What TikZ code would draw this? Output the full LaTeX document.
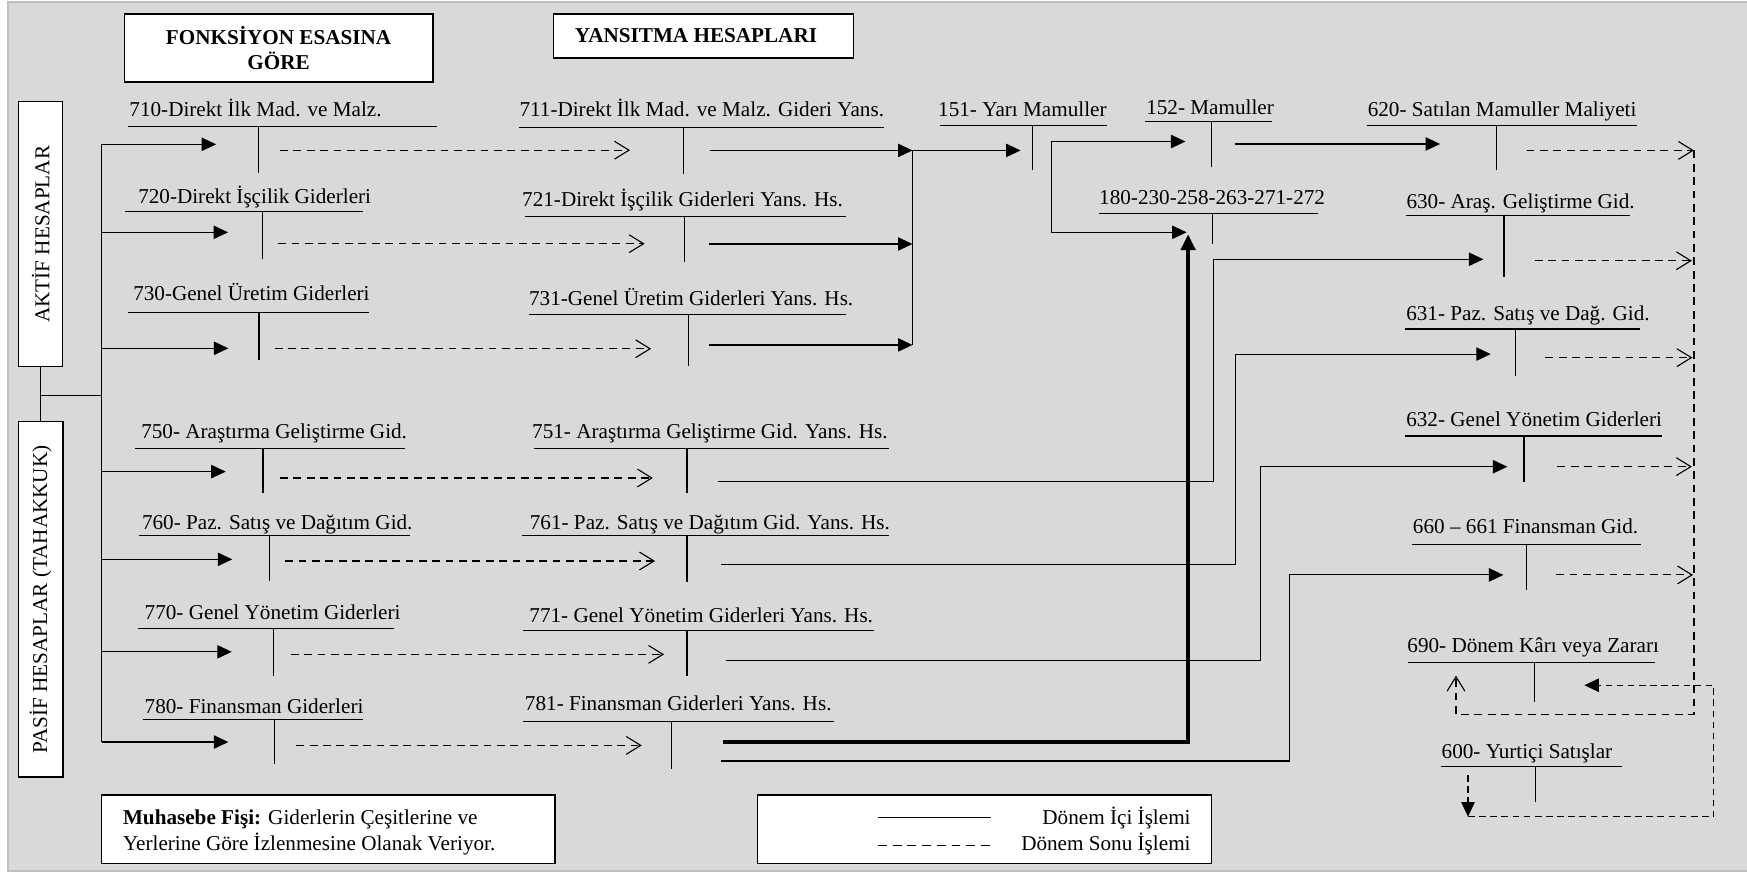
\documentclass[tikz,border=0pt]{standalone}
\usepackage{fontspec}
\setmainfont{Liberation Serif}
\usetikzlibrary{arrows.meta}
\definecolor{bggray}{HTML}{D9D9D9}
\definecolor{framegray}{HTML}{BFBFBF}
\newcommand{\tacct}[9]{%
  \node[lbl] (#1) at (#2,#3) {#4};
  \draw[tline] (#5,#7) -- (#6,#7);
  \draw[tline] (#8,#7) -- (#8,#9);
}
\begin{document}
\begin{tikzpicture}[x=0.5pt,y=-0.5pt,
  font=\fontsize{9.5pt}{11.5pt}\selectfont,
  tline/.style={line width=0.5pt},
  lbl/.style={anchor=base west,inner sep=0pt},
  sarr/.style={line width=0.5pt,-{Triangle[length=6.5pt,width=6pt]}},
  darr/.style={line width=0.5pt,dash pattern=on 3.5pt off 2.5pt,-{Straight Barb[length=6.5pt,width=8pt]}},
  dline/.style={line width=0.5pt,dash pattern=on 3.5pt off 2.5pt},
  dsarr/.style={line width=0.5pt,dash pattern=on 3pt off 2pt,-{Triangle[length=6.5pt,width=6pt]}},
  box/.style={draw,fill=white,line width=0.6pt,inner sep=0pt},
]
\useasboundingbox (0,0) rectangle (1568,783);
\fill[bggray] (7,1.5) rectangle (1568,781.5);
\draw[framegray,line width=0.8pt] (1568,1.5) -- (7,1.5) -- (7,781.5) -- (1568,781.5);

% title boxes
\node[box,minimum width=138.5pt,minimum height=30.5pt,align=center,
  font=\fontsize{9.5pt}{10.9pt}\selectfont\bfseries] (fonk) at (250,43.1)
  {FONKSİYON ESASINA\\GÖRE};
\node[box,minimum width=134.5pt,minimum height=19.7pt] (yansbox) at (631.3,32.3) {};
\node[font=\fontsize{9.5pt}{11.5pt}\selectfont\bfseries,inner sep=0pt] (yans) at (624.7,32.3) {YANSITMA HESAPLARI};

% side boxes
\node[box,rotate=90,minimum width=119pt,minimum height=19.8pt] (aktif) at (36.5,210.2) {AKTİF HESAPLAR};
\node[box,rotate=90,minimum width=159.5pt,minimum height=20.1pt] (pasif) at (36.5,538) {PASİF HESAPLAR (TAHAKKUK)};
\draw[tline] (aktif.west) -- (pasif.east);
\coordinate (jn) at (36.5,355);
\coordinate (trtop) at (91.4,129.5);
\coordinate (trbot) at (91.4,666);
\draw[tline] (jn) -- (91.4,355);
\draw[tline] (trtop) -- (trbot);

% T accounts
\tacct{a710}{115.8}{105}{710-Direkt İlk Mad. ve Malz.}{115}{392}{113.7}{231.8}{155}
\tacct{a720}{123.7}{182.8}{720-Direkt İşçilik Giderleri}{112.4}{326}{190}{235.6}{232.5}
\tacct{a730}{119.2}{269.3}{730-Genel Üretim Giderleri}{115}{331}{280.6}{232.5}{323}
\tacct{a750}{126.4}{393.7}{750- Araştırma Geliştirme Gid.}{121}{363.4}{402.4}{236}{442.8}
\tacct{a760}{127.1}{475.3}{760- Paz. Satış ve Dağıtım Gid.}{124.7}{368}{481}{242}{521.5}
\tacct{a770}{129.5}{556.3}{770- Genel Yönetim Giderleri}{124}{354}{564}{245.6}{606.4}
\tacct{a780}{129.5}{640.3}{780- Finansman Giderleri}{128}{326}{646}{246.6}{685.6}
\tacct{a711}{465.9}{105}{711-Direkt İlk Mad. ve Malz. Gideri Yans.}{465.8}{793}{114.3}{613.6}{156}
\tacct{a721}{468.3}{185.1}{721-Direkt İşçilik Giderleri Yans. Hs.}{471}{759.6}{194.5}{614}{234.9}
\tacct{a731}{474.5}{274.1}{731-Genel Üretim Giderleri Yans. Hs.}{474.5}{759.6}{282.4}{618}{328.5}
\tacct{a751}{477.3}{393.7}{751- Araştırma Geliştirme Gid. Yans. Hs.}{479}{797.7}{402.4}{616.6}{442.8}
\tacct{a761}{475.2}{475.3}{761- Paz. Satış ve Dağıtım Gid. Yans. Hs.}{468.3}{797.7}{481}{616.6}{522}
\tacct{a771}{474.8}{558.3}{771- Genel Yönetim Giderleri Yans. Hs.}{469.5}{784.5}{566}{616.6}{606.7}
\tacct{a781}{470.8}{637.3}{781- Finansman Giderleri Yans. Hs.}{469.5}{748.5}{647.7}{603}{690}
\tacct{a151}{841.7}{105}{151- Yarı Mamuller}{844}{993.5}{112.5}{926.6}{153}
\tacct{a152}{1028.4}{102.6}{152- Mamuller}{1028}{1141.5}{109.2}{1087.5}{149.6}
\tacct{a180}{986.2}{183.7}{180-230-258-263-271-272}{986.2}{1182.6}{192}{1088.4}{219}
\tacct{a620}{1227.2}{105}{620- Satılan Mamuller Maliyeti}{1226.5}{1469.5}{112.5}{1343}{153}
\tacct{a630}{1262}{187.3}{630- Araş. Geliştirme Gid.}{1262}{1463.2}{193.6}{1349.9}{248.3}
\tacct{a631}{1261.8}{287.5}{631- Paz. Satış ve Dağ. Gid.}{1261.4}{1472.2}{295.3}{1360.2}{337.2}
\tacct{a632}{1261.8}{382.6}{632- Genel Yönetim Giderleri}{1261.4}{1491.8}{391.3}{1367.8}{432.3}
\tacct{a660}{1267.8}{479}{660 – 661 Finansman Gid.}{1267.3}{1472.5}{489}{1370}{529.5}
\tacct{a690}{1262.8}{585.3}{690- Dönem Kârı veya Zararı}{1264}{1485}{594.7}{1377.5}{630}
\tacct{a600}{1293.6}{680.9}{600- Yurtiçi Satışlar}{1293}{1456}{688}{1378}{720}

% trunk branches
\foreach \y/\t in {129.5/194,208.5/204.7,312.6/205,423.3/202.6,502/208.5,585/208,666/205}
  \draw[sarr] (91.4,\y) -- (\t,\y);

% dashed: expense -> reflection accounts
\draw[darr] (251.4,134.8) -- (565.5,134.8);
\draw[darr] (249.7,218.7) -- (578.6,218.7);
\draw[darr] (246.6,313) -- (584.4,313);
\draw[darr] (251.4,429) -- (586,429);
\draw[darr] (256,503.5) -- (587.9,503.5);
\draw[darr] (261,587.3) -- (596,587.3);
\draw[darr] (266,669) -- (576,669);

% production costs collector
\draw[sarr] (637,135) -- (819,135);
\draw[sarr] (636.3,219) -- (819,219);
\draw[sarr] (636.3,309.6) -- (819,309.6);
\draw[tline] (819,135) -- (819,309.6);
\draw[sarr] (819,135) -- (916,135);

% 151 -> 152 and 180
\draw[{Triangle[length=6.5pt,width=6pt]}-{Triangle[length=6.5pt,width=6pt]},line width=0.5pt]
  (1064,127) -- (943.5,127) -- (943.5,208.5) -- (1065,208.5);
% 781 -> 180 (thick)
\draw[line width=1.5pt,-{Triangle[length=7pt,width=6.5pt]}] (649,666) -- (1066.4,666) -- (1066.4,210.4);
% 152 -> 620
\draw[sarr] (1108.4,129.2) -- (1292.6,129.2);
% period expenses
\draw[sarr] (644.4,432.3) -- (1089,432.3) -- (1089,232.7) -- (1331.4,232.7);
\draw[sarr] (647.3,506.5) -- (1108.5,506.5) -- (1108.5,317.8) -- (1338,317.8);
\draw[sarr] (651.6,592.5) -- (1131.7,592.5) -- (1131.7,418.9) -- (1352.9,418.9);
\draw[sarr] (647,683) -- (1157.6,683) -- (1157.6,516) -- (1349.4,516);

% closing entries
\draw[darr] (1370.2,135) -- (1520.4,135);
\draw[darr] (1377.5,234) -- (1518.5,234);
\draw[darr] (1387,321) -- (1519,321);
\draw[darr] (1397.8,418.8) -- (1518.5,418.8);
\draw[darr] (1396.7,516) -- (1519.6,516);
\draw[darr] (1520.4,135) -- (1520.4,641) -- (1306.8,641) -- (1306.8,606.4);
\draw[dsarr] (1317.6,695.6) -- (1317.6,733);
\draw[dsarr] (1317.6,733) -- (1538.3,733) -- (1538.3,615) -- (1422,615);

% bottom boxes
\node[box,minimum width=203.5pt,minimum height=30.75pt] (fis) at (294.5,744.25) {};
\node[lbl] (fis1) at (110,740.3) {\textbf{Muhasebe Fişi:} Giderlerin Çeşitlerine ve};
\node[lbl] (fis2) at (110,763.3) {Yerlerine Göre İzlenmesine Olanak Veriyor.};

\node[box,minimum width=203.75pt,minimum height=30.75pt] (legend) at (883.75,744.25) {};
\draw[tline] (788,734) -- (889.5,734);
\draw[line width=0.5pt,dash pattern=on 4pt off 2.6pt] (788,758.5) -- (889.5,758.5);
\node[anchor=base east,inner sep=0pt] (leg1) at (1069,740.3) {Dönem İçi İşlemi};
\node[anchor=base east,inner sep=0pt] (leg2) at (1069,763.3) {Dönem Sonu İşlemi};
\end{tikzpicture}
\end{document}
